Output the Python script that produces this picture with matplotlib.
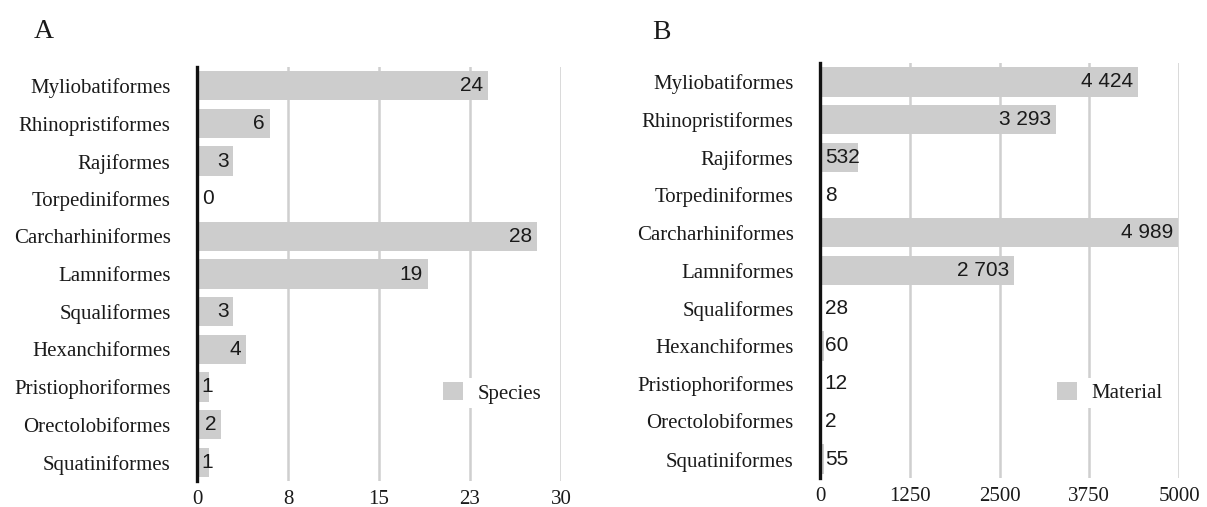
import matplotlib
matplotlib.use("Agg")
import matplotlib.pyplot as plt
from matplotlib.patches import Patch

categories = ["Myliobatiformes", "Rhinopristiformes", "Rajiformes", "Torpediniformes",
              "Carcharhiniformes", "Lamniformes", "Squaliformes", "Hexanchiformes",
              "Pristiophoriformes", "Orectolobiformes", "Squatiniformes"]
species = [24, 6, 3, 0, 28, 19, 3, 4, 1, 2, 1]
material = [4424, 3293, 532, 8, 4989, 2703, 28, 60, 12, 2, 55]
ticks_a = [0, 7.5, 15, 22.5, 30]
ticklabels_a = ["0", "8", "15", "23", "30"]
ticks_b = [0, 1250, 2500, 3750, 5000]
ticklabels_b = ["0", "1250", "2500", "3750", "5000"]

W, H = 1207, 507
fig = plt.figure(figsize=(W / 100, H / 100), dpi=100)

SERIF = ["Liberation Serif", "DejaVu Serif"]
SANS = ["Liberation Sans", "DejaVu Sans"]
BAR = "#cdcdcd"
GRID = "#cfcfcf"
TXT = "#1a1a1a"


def fmt(v):
    return f"{v:,}".replace(",", " ")


def panel(rect, values, ticks, ticklabels, xmax, legend_label, leg_anchor, letter, letter_xy):
    ax = fig.add_axes(rect)
    y = list(range(len(categories)))
    ax.barh(y, values, height=0.78, color=BAR, zorder=2)
    ax.set_ylim(len(categories) - 0.5, -0.5)
    ax.set_xlim(0, xmax)
    ax.set_yticks(y)
    ax.set_yticklabels(categories, family=SERIF, fontsize=15, color=TXT)
    ax.set_xticks(ticks)
    ax.set_xticklabels(ticklabels, family=SERIF, fontsize=15, color=TXT)
    ax.tick_params(axis="y", length=0, pad=19)
    ax.tick_params(axis="x", length=0, pad=6.5)
    for s in ["top", "right", "bottom"]:
        ax.spines[s].set_visible(False)
    ax.spines["left"].set_linewidth(2.4)
    ax.spines["left"].set_color("#111111")
    ax.spines["left"].set_zorder(4)
    ax.grid(axis="x", color=GRID, linewidth=1.8, zorder=0)
    ax.set_axisbelow(True)
    fig.canvas.draw()
    r = fig.canvas.get_renderer()
    for yi, v in zip(y, values):
        t = ax.annotate(fmt(v), xy=(v, yi), xytext=(-3.5, 0), textcoords="offset points",
                        ha="right", va="center", family=SANS, fontsize=15,
                        color=TXT, zorder=5)
        bb = t.get_window_extent(renderer=r)
        x0 = ax.transData.transform((0, yi))[0]
        if bb.x0 < x0 + 4:
            t.remove()
            ax.annotate(fmt(v), xy=(0, yi), xytext=(3.5, 0), textcoords="offset points",
                        ha="left", va="center", family=SANS, fontsize=15,
                        color=TXT, zorder=5)
    leg = ax.legend(handles=[Patch(facecolor=BAR, edgecolor="none")], labels=[legend_label],
                    loc="center left", bbox_to_anchor=leg_anchor, frameon=True,
                    facecolor="white", edgecolor="none", framealpha=1,
                    handlelength=0.95, handleheight=0.95, handletextpad=0.7,
                    borderpad=0.2, borderaxespad=0, prop={"family": SERIF, "size": 15})
    for txt in leg.get_texts():
        txt.set_color(TXT)
    leg.set_zorder(6)
    fig.text(letter_xy[0] / W, 1 - letter_xy[1] / H, letter, family=SERIF, fontsize=20,
             ha="left", va="baseline", color=TXT)
    return ax


panel([197 / W, 1 - 481 / H, (561 - 197) / W, (481 - 67) / H], species, ticks_a, ticklabels_a,
      30, "Species", (0.665, 0.2126), "A", (34, 38))
panel([820 / W, 1 - 478 / H, (1179 - 820) / W, (478 - 63) / H], material, ticks_b, ticklabels_b,
      5000, "Material", (0.649, 0.205), "B", (652, 39))

fig.savefig("out.png", dpi=100)
